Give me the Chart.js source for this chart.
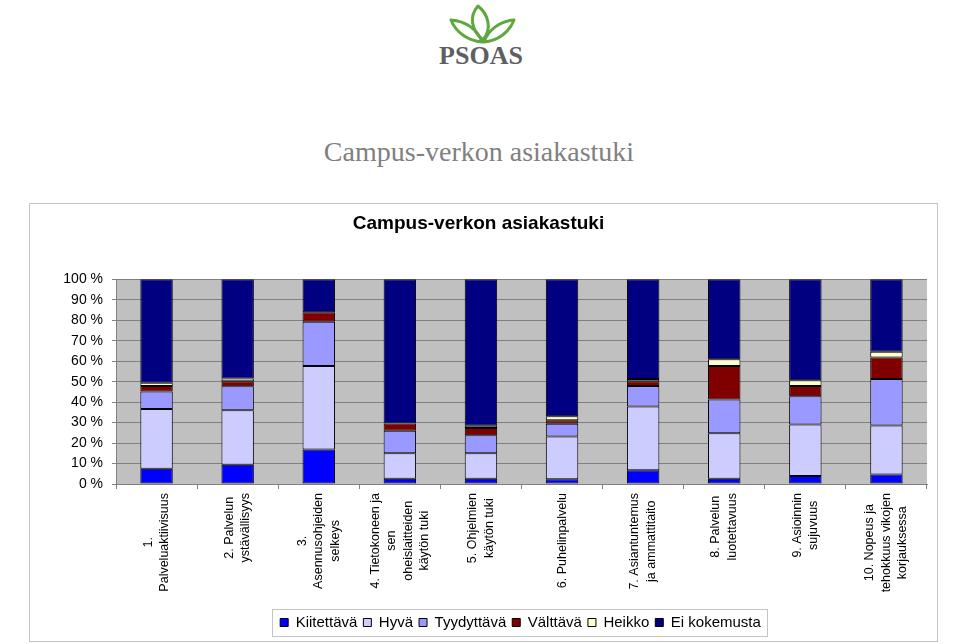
<!DOCTYPE html>
<html>
<head>
<meta charset="utf-8">
<script src="https://cdn.jsdelivr.net/npm/chart.js@4/dist/chart.umd.min.js"></script>
<style>
  body { margin: 0; background: #fff; width: 960px; height: 644px; overflow: hidden; position: relative; }
  #logo { position: absolute; left: 430px; top: 0; }
  #pageTitle { position: absolute; left: 0; width: 958px; top: 138px; text-align: center;
    font-family: "Liberation Serif", "Times New Roman", serif; font-size: 28px; line-height: 28px; color: #808080; }
  #box { position: absolute; left: 29px; top: 203px; width: 907px; height: 437px; border: 1px solid #c4c4c4; }
</style>
</head>
<body>
<svg id="logo" width="110" height="70" viewBox="430 0 110 70">
  <g fill="none" stroke="#5ea83e" stroke-width="3" stroke-linejoin="round">
    <path d="M483 40 C 471 30, 469 16, 478 6 C 489 15, 492 29, 483 40 Z"/>
    <path d="M482 42 C 469 41, 456 33, 451 20 C 466 21, 478 30, 482 42 Z"/>
    <path d="M484 42 C 497 41, 509 33, 514 20 C 500 21, 488 30, 484 42 Z"/>
  </g>
  <text x="481" y="64" text-anchor="middle" font-family="Liberation Serif, Times New Roman, serif"
        font-weight="bold" font-size="26" fill="#5f5f5f">PSOAS</text>
</svg>
<div id="pageTitle">Campus-verkon asiakastuki</div>
<div id="box"><canvas id="myChart"></canvas></div>
<script>
const categories = [
    ["1.", "Palveluaktiivisuus"],
    ["2. Palvelun", "ystävällisyys"],
    ["3.", "Asennusohjeiden", "selkeys"],
    ["4. Tietokoneen ja", "sen", "oheislaitteiden", "käytön tuki"],
    ["5. Ohjelmien", "käytön tuki"],
    ["6. Puhelinpalvelu"],
    ["7. Asiantuntemus", "ja ammattitaito"],
    ["8. Palvelun", "luotettavuus"],
    ["9. Asioinnin", "sujuvuus"],
    ["10. Nopeus ja", "tehokkuus vikojen", "korjauksessa"]
]
const seriesNames = ["Kiitettävä", "Hyvä", "Tyydyttävä", "Välttävä", "Heikko", "Ei kokemusta"]
const kiitettava = [7.4, 9.4, 16.8, 2.6, 2.6, 2.3, 6.7, 2.6, 3.9, 4.6]
const hyva = [29.3, 26.6, 40.9, 12.4, 12.4, 20.9, 31.1, 22.2, 25.2, 24.0]
const tyydyttava = [8.5, 11.7, 21.6, 11.0, 8.8, 6.2, 10.1, 16.5, 13.8, 22.7]
const valttava = [2.7, 2.5, 4.6, 3.6, 3.5, 1.7, 2.3, 16.4, 5.0, 10.5]
const heikko = [1.6, 1.3, 0, 0, 1.2, 2.0, 1.1, 3.3, 2.8, 2.8]
const eiKokemusta = [50.5, 48.5, 16.1, 70.4, 71.5, 66.9, 48.7, 39.0, 49.3, 35.4]
const yTicks = [0, 10, 20, 30, 40, 50, 60, 70, 80, 90, 100]

const colors = ['#0000ff', '#ccccff', '#9999ff', '#800000', '#ffffcc', '#000080']
const allSeries = [kiitettava, hyva, tyydyttava, valttava, heikko, eiKokemusta]

const FONT = '"Liberation Sans", Arial, sans-serif'
const LEGEND_SHIFT = 42

// grey plot background, legend moved right + framed
const framePlugin = {
    id: 'frame',
    afterUpdate(chart) {
        const lg = chart.legend
        lg.left += LEGEND_SHIFT
        lg.right += LEGEND_SHIFT
        lg.legendHitBoxes.forEach(h => { h.left += LEGEND_SHIFT })
    },
    beforeDraw(chart) {
        const a = chart.chartArea
        const ctx = chart.ctx
        ctx.save()
        ctx.fillStyle = '#c0c0c0'
        ctx.fillRect(a.left, a.top, a.right - a.left, a.bottom - a.top)
        ctx.restore()
    },
    afterDraw(chart) {
        const boxes = chart.legend.legendHitBoxes
        if (!boxes || !boxes.length) return
        let l = Infinity, r = -Infinity, t = Infinity, b = -Infinity
        boxes.forEach(h => {
            l = Math.min(l, h.left); r = Math.max(r, h.left + h.width)
            t = Math.min(t, h.top); b = Math.max(b, h.top + h.height)
        })
        const ctx = chart.ctx
        ctx.save()
        ctx.strokeStyle = '#c4c4c4'
        ctx.lineWidth = 1
        ctx.strokeRect(Math.round(l - 8) + 0.5, Math.round(t - 6) + 0.5, Math.round(r - l + 14), Math.round(b - t + 12))
        ctx.restore()
    }
}

// category labels, rotated, lines centred like the original
const xLabelPlugin = {
    id: 'xLabels',
    afterDraw(chart) {
        const xs = chart.scales.x
        const ctx = chart.ctx
        ctx.save()
        ctx.font = '12.5px ' + FONT
        ctx.fillStyle = '#000'
        ctx.textAlign = 'center'
        ctx.textBaseline = 'middle'
        const lh = 16.5
        categories.forEach((lines, i) => {
            const x = xs.getPixelForTick(i)
            const maxW = Math.max(...lines.map(s => ctx.measureText(s).width))
            ctx.save()
            ctx.translate(x, chart.chartArea.bottom + 9)
            ctx.rotate(-Math.PI / 2)
            lines.forEach((s, k) => {
                ctx.fillText(s, -maxW / 2, (k - (lines.length - 1) / 2) * lh)
            })
            ctx.restore()
        })
        ctx.restore()
    }
}

new Chart(document.getElementById('myChart'), {
    type: 'bar',
    data: {
        labels: categories,
        datasets: allSeries.map((d, i) => ({
            label: seriesNames[i],
            data: d,
            backgroundColor: colors[i],
            borderColor: '#000000',
            borderWidth: 1,
            borderSkipped: false,
            barPercentage: 0.4,
            categoryPercentage: 1
        }))
    },
    options: {
        responsive: true,
        maintainAspectRatio: false,
        animation: false,
        layout: { padding: { left: 0, right: 10, top: 0, bottom: 1 } },
        scales: {
            x: {
                stacked: true,
                grid: { display: true, drawOnChartArea: false, offset: true, color: '#808080', tickLength: 5 },
                border: { color: '#808080' },
                ticks: { display: false },
                afterFit(scale) { scale.height = 125 }
            },
            y: {
                stacked: true,
                min: 0,
                max: 100,
                afterBuildTicks(scale) { scale.ticks = yTicks.map(v => ({ value: v })) },
                grid: { color: '#808080', tickLength: 4 },
                border: { color: '#808080' },
                ticks: {
                    color: '#000',
                    padding: 9,
                    font: { family: FONT, size: 14 },
                    callback: v => v + ' %'
                },
                afterFit(scale) { scale.width = 86 }
            }
        },
        plugins: {
            title: {
                display: true,
                text: 'Campus-verkon asiakastuki',
                color: '#000',
                font: { family: FONT, size: 19, weight: 'bold' },
                padding: { top: 8, bottom: 44.5 }
            },
            legend: {
                position: 'bottom',
                labels: {
                    color: '#000',
                    boxWidth: 8,
                    boxHeight: 8,
                    padding: 6,
                    font: { family: FONT, size: 15 }
                }
            },
            tooltip: { enabled: false }
        }
    },
    plugins: [framePlugin, xLabelPlugin]
})
</script>
</body>
</html>
